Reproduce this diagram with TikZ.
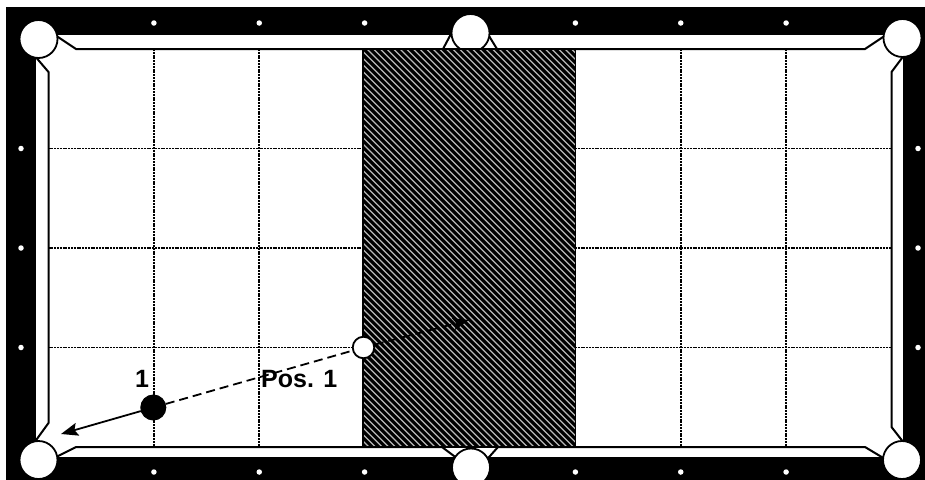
\documentclass[tikz,border=0pt]{standalone}
\usepackage{fontspec}
\setmainfont{Liberation Sans}
\usetikzlibrary{arrows.meta}
\begin{document}
\begin{tikzpicture}[x=1pt,y=-1pt,
  cushion/.style={line width=2pt,black,line join=miter},
  gridline/.style={line width=1.7pt,black,dash pattern=on 2pt off 0.8pt},
  pocket/.style={circle,draw=black,fill=white,line width=1.8pt,minimum size=38pt,inner sep=0pt},
  railspot/.style={circle,fill=white,minimum size=5.5pt,inner sep=0pt},
  ballw/.style={circle,draw=black,fill=white,line width=1.8pt,minimum size=21.5pt,inner sep=0pt},
  ballb/.style={circle,draw=black,fill=black,line width=1pt,minimum size=25pt,inner sep=0pt},
  shotline/.style={line width=1.8pt,black},
  lab/.style={font=\bfseries\fontsize{25}{25}\selectfont,inner sep=0pt}]
\useasboundingbox (0,0) rectangle (925,479);
\clip (0,0) rectangle (925,479);
\fill[white] (0,0) rectangle (925,479);
% frame and rails
\fill[black] (6,7) rectangle (940,495);
\fill[white] (36,35) rectangle (903,457);
% rail spots
\foreach \x [count=\i] in {153.9,259.25,364.6,575.4,680.75,786.1}{
  \node[railspot] (st\i) at (\x,23) {};
  \node[railspot] (sb\i) at (\x,472) {};
}
\foreach \y [count=\i] in {148.5,248,347.5}{
  \node[railspot] (sl\i) at (21,\y) {};
  \node[railspot] (sr\i) at (918,\y) {};
}
% grid
\foreach \x in {153.9,259.25,364.6,470,575.4,680.75,786.1}
  \draw[gridline] (\x,49) -- (\x,447);
\foreach \y in {148.5,248,347.5}
  \draw[gridline] (48.5,\y) -- (891.5,\y);
% cushions
\draw[cushion] (55,35) -- (76,49) -- (443,49) -- (452,32);
\draw[cushion] (487.5,33.5) -- (497,49) -- (865,49) -- (886,35);
\draw[cushion] (905,54) -- (891.5,72) -- (891.5,427) -- (904,443);
\draw[cushion] (885,459) -- (865,447) -- (498,447) -- (486,460.5);
\draw[cushion] (458,459) -- (442,447) -- (76,447) -- (54,458);
\draw[cushion] (34,443) -- (48.5,423) -- (48.5,72) -- (34,55);
% pockets
\node[pocket] (pTL) at (38.5,39) {};
\node[pocket] (pTM) at (470.5,33) {};
\node[pocket] (pTR) at (902.5,38) {};
\node[pocket] (pBL) at (38.5,460) {};
\node[pocket] (pBM) at (471,467.5) {};
\node[pocket] (pBR) at (902,460) {};
% hatched zone
\begin{scope}
  \clip (363,49) rectangle (575.5,447);
  \fill[black] (363,49) rectangle (575.5,447);
  \foreach \i in {-64,...,34}
    \draw[gray!55,line width=1.25pt] (363+\i*6.6,45) -- ++(420,420);
\end{scope}
\draw[black,line width=1.2pt] (363,49) rectangle (575.5,447);
% balls
\node[ballw] (cue) at (363.5,347.5) {};
\node[ballb] (b1) at (153.3,407.5) {};
\coordinate (tipA) at (469,320);
\coordinate (tipB) at (61,434);
\draw[shotline,dash pattern=on 9pt off 5pt] (b1) -- (cue);
\draw[shotline,dash pattern=on 9pt off 5pt,-{Stealth[length=16pt,width=12pt,inset=3pt]}] (cue) -- (tipA);
\draw[shotline,-{Stealth[length=17pt,width=13pt,inset=3pt]}] (b1) -- (tipB);
% labels
\node[lab,anchor=base] (l1) at (142,387) {1};
\node[lab,anchor=base west] (lpos) at (261,387) {Pos. 1};
\end{tikzpicture}
\end{document}
